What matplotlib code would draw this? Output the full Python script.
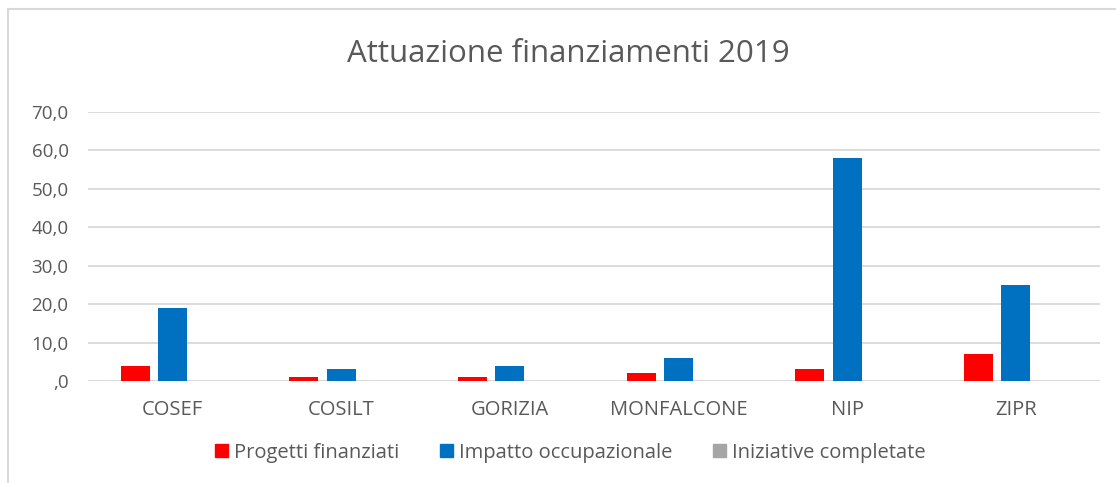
import matplotlib.pyplot as plt
import numpy as np
from matplotlib.lines import Line2D

categories = ["COSEF", "COSILT", "GORIZIA", "MONFALCONE", "NIP", "ZIPR"]
progetti = [4, 1, 1, 2, 3, 7]
impatto = [19, 3, 4, 6, 58, 25]
iniziative = [0, 0, 0, 0, 0, 0]
series_names = ["Progetti finanziati", "Impatto occupazionale", "Iniziative completate"]
colors = ["#FF0000", "#0070C0", "#A5A5A5"]
yticks = [0, 10, 20, 30, 40, 50, 60, 70]

plt.rcParams['font.family'] = ['Open Sans', 'DejaVu Sans']
txt = "#595959"

fig = plt.figure(figsize=(11.16, 4.83), dpi=100)
ax = fig.add_axes([0.0789, 0.2112, 0.9068, 0.5569])

x = np.arange(len(categories))
w = 0.172
step = 0.22
for i, (vals, name, c) in enumerate(zip([progetti, impatto, iniziative], series_names, colors)):
    ax.bar(x + (i - 1) * step, vals, width=w, color=c, label=name, zorder=3)

ax.set_xlim(-0.5, len(categories) - 0.5)
ax.set_ylim(0, 70)
ax.set_yticks(yticks)
ax.set_yticklabels([",0" if v == 0 else f"{v},0" for v in yticks])
ax.set_xticks(x)
ax.set_xticklabels(categories)
ax.tick_params(axis='both', length=0, colors=txt)
ax.tick_params(axis='y', pad=14, labelsize=13.5)
ax.tick_params(axis='x', pad=14, labelsize=14.5)
ax.grid(axis='y', color="#D9D9D9", linewidth=1.3, zorder=0)
for s in ax.spines.values():
    s.set_visible(False)
ax.axhline(0, color="#D9D9D9", linewidth=1.3, zorder=2)

fig.text(0.509, 0.888, "Attuazione finanziamenti 2019", ha='center', va='center',
         fontsize=22.5, color=txt)

handles = [plt.Rectangle((0, 0), 1, 1, color=c) for c in colors]
leg = fig.legend(handles, series_names, loc='center', bbox_to_anchor=(0.511, 0.063),
                 ncol=3, frameon=False, fontsize=14.5, handlelength=0.65, handleheight=0.65,
                 handletextpad=0.3, columnspacing=2.0)
for t in leg.get_texts():
    t.set_color(txt)

# chart frame edges
fig.add_artist(Line2D([8 / 1116, 8 / 1116], [0, 1 - 9 / 483], color="#D9D9D9", linewidth=1.5))
fig.add_artist(Line2D([8 / 1116, 1], [1 - 9 / 483, 1 - 9 / 483], color="#D9D9D9", linewidth=1.5))

fig.savefig("out.png", dpi=100, facecolor="white")
